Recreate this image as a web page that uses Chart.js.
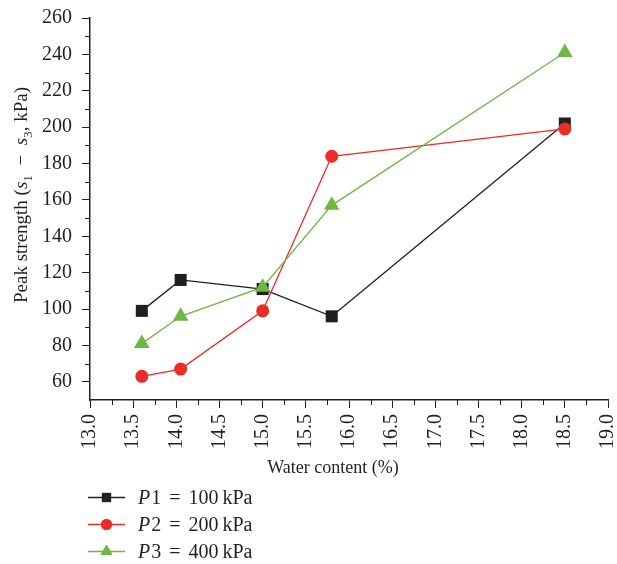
<!DOCTYPE html>
<html><head><meta charset="utf-8">
<script src="https://cdn.jsdelivr.net/npm/chart.js@4/dist/chart.umd.min.js"></script>
<style>html,body{margin:0;padding:0;background:#fff}</style>
</head><body>
<canvas id="c" width="617" height="564"></canvas>
<script>
// ---- data ----
const waterContent = [13.6, 14.05, 15.0, 15.8, 18.5];
const p1Values = [99, 116, 111, 96, 202];
const p2Values = [63, 67, 99, 184, 199];
const p3Values = [81, 96, 112, 157, 241];
const seriesNames = ['P1', 'P2', 'P3'];
const seriesPressures = ['100\u2009kPa', '200\u2009kPa', '400\u2009kPa'];
const xTicks = [13.0, 13.5, 14.0, 14.5, 15.0, 15.5, 16.0, 16.5, 17.0, 17.5, 18.0, 18.5, 19.0];
const xMinorTicks = [13.25, 13.75, 14.25, 14.75, 15.25, 15.75, 16.25, 16.75, 17.25, 17.75, 18.25, 18.75];
const yTicks = [60, 80, 100, 120, 140, 160, 180, 200, 220, 240, 260];
const yMinorTicks = [70, 90, 110, 130, 150, 170, 190, 210, 230, 250];
const xTitle = 'Water content (%)';
const yTitleParts = [['Peak strength (', 'n'], ['s', 'i'], ['1', 'sub'], ['\u2002\u2212\u2002', 'n'], ['s', 'i'], ['3', 'sub'], [', kPa)', 'n']];

const INK = '#231f20';
const RED = '#ee2b24';
const GREEN = '#6cb843';
const FONT = '"Liberation Serif", "DejaVu Serif", serif';

function pts(xs, ys) { return xs.map((x, i) => ({ x: x, y: ys[i] })); }

const datasets = [
  { label: seriesNames[0] + ' = ' + seriesPressures[0], data: pts(waterContent, p1Values), borderColor: INK, backgroundColor: INK,
    pointStyle: 'rect', pointRadius: 8.5, borderWidth: 1.3, pointBorderWidth: 0, order: 3 },
  { label: seriesNames[1] + ' = ' + seriesPressures[1], data: pts(waterContent, p2Values), borderColor: RED, backgroundColor: RED,
    pointStyle: 'circle', pointRadius: 6.5, borderWidth: 1.3, pointBorderWidth: 0, order: 2 },
  { label: seriesNames[2] + ' = ' + seriesPressures[2], data: pts(waterContent, p3Values), borderColor: GREEN, backgroundColor: GREEN,
    pointStyle: 'triangle', pointRadius: 9, borderWidth: 1.3, pointBorderWidth: 0, order: 1 }
];

function layoutRich(ctx, parts, size) {
  let w = 0;
  const segs = parts.map(([t, s]) => {
    const fs = s === 'sub' ? size * 0.7 : size;
    const font = (s === 'i' ? 'italic ' : '') + fs + 'px ' + FONT;
    ctx.font = font;
    const mw = ctx.measureText(t).width;
    const seg = { t, font, dx: w, dy: s === 'sub' ? size * 0.25 : 0 };
    w += mw;
    return seg;
  });
  return { segs, w };
}

const decor = {
  id: 'decor',
  afterDraw(chart) {
    const ctx = chart.ctx;
    const xs = chart.scales.x, ys = chart.scales.y;
    const ca = chart.chartArea;
    ctx.save();
    ctx.strokeStyle = INK;
    ctx.lineWidth = 1;
    // minor ticks
    ctx.beginPath();
    xMinorTicks.forEach(v => { const px = Math.round(xs.getPixelForValue(v)) + 0.5; ctx.moveTo(px, ca.bottom); ctx.lineTo(px, ca.bottom + 5); });
    yMinorTicks.forEach(v => { const py = Math.round(ys.getPixelForValue(v)) + 0.5; ctx.moveTo(ca.left, py); ctx.lineTo(ca.left - 5, py); });
    ctx.stroke();

    ctx.fillStyle = INK;
    ctx.textBaseline = 'alphabetic';
    // x title
    ctx.font = '18px ' + FONT;
    ctx.textAlign = 'center';
    ctx.fillText(xTitle, 333, 473);
    // y title
    ctx.textAlign = 'left';
    const r = layoutRich(ctx, yTitleParts, 19);
    ctx.translate(27, 195);
    ctx.rotate(-Math.PI / 2);
    r.segs.forEach(s => { ctx.font = s.font; ctx.fillText(s.t, -r.w / 2 + s.dx, s.dy); });
    ctx.setTransform(1, 0, 0, 1, 0, 0);

    // legend
    const rowY = [497, 524, 551];
    const legendRadius = [6.5, 5.5, 7];
    chart.data.datasets.forEach((ds, i) => {
      const y = rowY[i];
      ctx.strokeStyle = ds.borderColor; ctx.lineWidth = 1.3;
      ctx.beginPath(); ctx.moveTo(88, y + 0.5); ctx.lineTo(125, y + 0.5); ctx.stroke();
      ctx.fillStyle = ds.backgroundColor;
      Chart.helpers.drawPoint(ctx, { pointStyle: ds.pointStyle, radius: legendRadius[i], rotation: 0, borderWidth: 0 }, 106.5, y + 0.5);
      ctx.fill();
      ctx.fillStyle = INK;
      ctx.textAlign = 'left';
      let x = 138;
      ctx.font = 'italic 20px ' + FONT;
      ctx.fillText(seriesNames[i].charAt(0), x, y + 7);
      x += ctx.measureText(seriesNames[i].charAt(0)).width + 1;
      ctx.font = '20px ' + FONT;
      ctx.fillText(seriesNames[i].slice(1), x, y + 7);
      x += ctx.measureText(seriesNames[i].slice(1)).width + 8;
      ctx.fillText('=', x, y + 7);
      x += ctx.measureText('=').width + 8;
      ctx.fillText(seriesPressures[i], x, y + 7);
    });
    ctx.restore();
  }
};

new Chart(document.getElementById('c'), {
  type: 'line',
  data: { datasets },
  options: {
    responsive: false,
    animation: false,
    layout: { padding: { top: 18, right: 7, left: 0, bottom: 0 } },
    plugins: { legend: { display: false }, tooltip: { enabled: false } },
    elements: { line: { tension: 0 } },
    scales: {
      x: {
        type: 'linear', position: 'bottom', min: 13, max: 19,
        afterBuildTicks: s => { s.ticks = xTicks.map(v => ({ value: v })); },
        afterFit: s => { s.height = 164; s.paddingLeft = 0; s.paddingRight = 0; },
        grid: { display: true, drawOnChartArea: false, drawTicks: true, tickLength: 8, color: INK, lineWidth: 1 },
        border: { display: true, color: INK, width: 1.5 },
        ticks: { autoSkip: false, minRotation: 90, maxRotation: 90, padding: 6, color: INK,
                 font: { family: FONT, size: 20 }, callback: v => Number(v).toFixed(1) }
      },
      y: {
        type: 'linear', position: 'left', min: 50, max: 260,
        afterBuildTicks: s => { s.ticks = yTicks.map(v => ({ value: v })); },
        afterFit: s => { s.width = 90; s.paddingTop = 0; s.paddingBottom = 0; },
        grid: { display: true, drawOnChartArea: false, drawTicks: true, tickLength: 8, color: INK, lineWidth: 1 },
        border: { display: true, color: INK, width: 1.5 },
        ticks: { autoSkip: false, padding: 10, color: INK, font: { family: FONT, size: 20 }, callback: v => String(v) }
      }
    }
  },
  plugins: [decor]
});
</script>
</body></html>
